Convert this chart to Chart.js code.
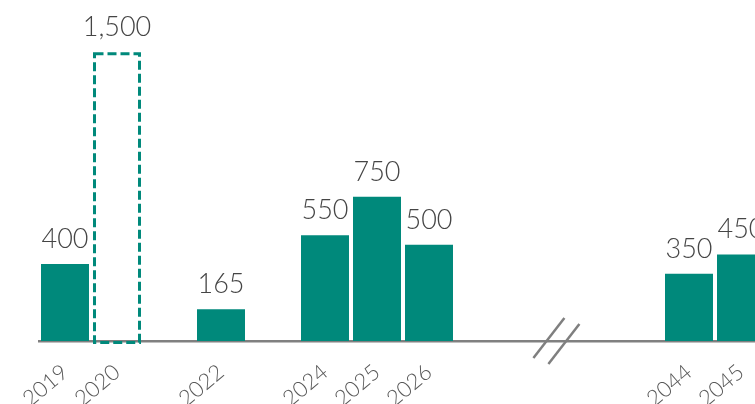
<!DOCTYPE html>
<html>
<head>
<meta charset="utf-8">
<script src="https://cdn.jsdelivr.net/npm/chart.js@4/dist/chart.umd.min.js"></script>
<style>
  html, body { margin: 0; padding: 0; background: #fff; overflow: hidden; }
  #wrap { width: 780px; height: 404px; }
</style>
</head>
<body>
<div id="wrap"><canvas id="chart" width="780" height="404"></canvas></div>
<script>
// Dados
const categories = ['2019', '2020', '', '2022', '', '2024', '2025', '2026', '', '', '', '', '2044', '2045'];
const actualValues = [400, null, null, 165, null, 550, 750, 500, null, null, null, null, 350, 450];
const plannedValues = [null, 1500, null, null, null, null, null, null, null, null, null, null, null, null];
const breakAt = 9.45; // posição do corte no eixo (em categorias)

const teal = '#00897b';
const labelFont = '300 27px Lato, "Open Sans", sans-serif';

// Rótulos de valor acima das barras
const valueLabels = {
  id: 'valueLabels',
  afterDatasetsDraw(chart) {
    const ctx = chart.ctx;
    ctx.save();
    ctx.font = labelFont;
    ctx.fillStyle = '#454545';
    ctx.textAlign = 'center';
    ctx.textBaseline = 'alphabetic';
    chart.data.datasets.forEach((ds, i) => {
      chart.getDatasetMeta(i).data.forEach((bar, j) => {
        const v = ds.data[j];
        if (v == null) return;
        ctx.fillText(v.toLocaleString('en-US'), bar.x, bar.y - 16);
      });
    });
    ctx.restore();
  }
};

// Contorno tracejado da barra planejada
const dashedBars = {
  id: 'dashedBars',
  afterDatasetsDraw(chart) {
    const ctx = chart.ctx;
    const meta = chart.getDatasetMeta(1);
    ctx.save();
    ctx.strokeStyle = teal;
    ctx.lineWidth = 3;
    ctx.setLineDash([9, 4]);
    meta.data.forEach((bar, j) => {
      if (chart.data.datasets[1].data[j] == null) return;
      const w = bar.width;
      ctx.strokeRect(bar.x - w / 2 + 1.5, bar.y + 1.5, w - 3, bar.base - bar.y);
    });
    ctx.restore();
  }
};

// Marca de quebra do eixo
const axisBreak = {
  id: 'axisBreak',
  afterDraw(chart) {
    const ctx = chart.ctx;
    const x = chart.scales.x.getPixelForValue(breakAt);
    const y = chart.chartArea.bottom;
    ctx.save();
    ctx.strokeStyle = '#7f7f7f';
    ctx.lineWidth = 2.5;
    [-7.5, 7.5].forEach(off => {
      ctx.beginPath();
      ctx.moveTo(x + off - 15.5, y + 20 + off * 0.4);
      ctx.lineTo(x + off + 15.5, y - 20 + off * 0.4);
      ctx.stroke();
    });
    ctx.restore();
  }
};

new Chart(document.getElementById('chart'), {
  type: 'bar',
  data: {
    labels: categories,
    datasets: [
      {
        data: actualValues,
        backgroundColor: teal,
        categoryPercentage: 1,
        barPercentage: 0.923
      },
      {
        data: plannedValues,
        backgroundColor: 'rgba(0,0,0,0)',
        categoryPercentage: 1,
        barPercentage: 0.923
      }
    ]
  },
  options: {
    responsive: false,
    animation: false,
    devicePixelRatio: 1,
    layout: { padding: { left: 39, right: 13, top: 33, bottom: 0 } },
    plugins: {
      legend: { display: false },
      tooltip: { enabled: false }
    },
    scales: {
      x: {
        stacked: true,
        grid: { display: false },
        border: { display: true, color: '#808080', width: 2.5 },
        ticks: {
          autoSkip: false,
          minRotation: 40,
          maxRotation: 40,
          padding: 10,
          color: '#595959',
          font: { family: 'Lato, "Open Sans", sans-serif', size: 22, weight: '300' }
        },
        afterFit: (scale) => { scale.height = 63; }
      },
      y: {
        display: false,
        stacked: false,
        min: 0,
        max: 1600
      }
    }
  },
  plugins: [valueLabels, dashedBars, axisBreak]
});
</script>
</body>
</html>
